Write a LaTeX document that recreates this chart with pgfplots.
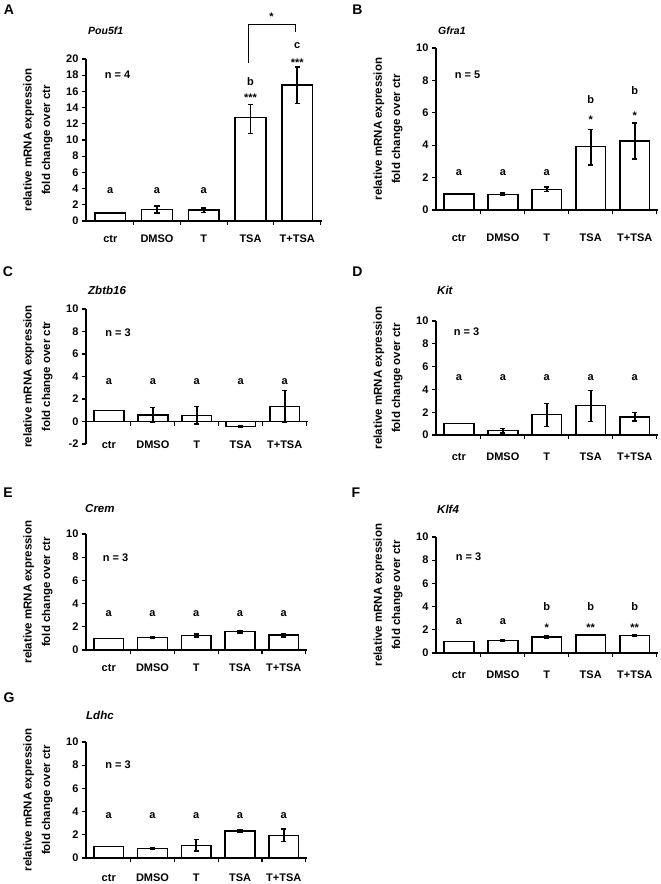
\documentclass[border=0pt]{standalone}
\usepackage{fontspec}
\setmainfont{Liberation Sans}
\usepackage{pgfplots}
\pgfplotsset{compat=1.18}
\usetikzlibrary{calc}
\newcommand{\fs}[1]{\fontsize{#1}{#1}\selectfont\bfseries}
\pgfplotsset{
 panel/.style={
  scale only axis, anchor=south west, clip=false,
  xmin=-0.52, xmax=4.53,
  axis x line*=bottom, axis y line*=left,
  axis line style={line width=1.2pt, -},
  tick align=outside,
  major tick length=4pt, minor tick length=4pt,
  xtick={0,1,2,3,4}, xticklabels={ctr,DMSO,T,TSA,T+TSA},
  major x tick style={draw=none},
  minor xtick={0.5,1.5,2.5,3.5,4.5},
  minor x tick style={line width=1.2pt, black},
  ytick style={line width=1.2pt, black},
  /pgf/number format/assume math mode=true,
  yticklabel style={font=\fs{11}},
  xticklabel style={font=\fs{11}, anchor=base},
  ylabel={relative mRNA expression\\fold change over ctr},
  ylabel style={align=center, font=\fontsize{11.5}{18.4}\selectfont\bfseries, at={($(axis description cs:0,0.5)+(-48pt,0)$)}, anchor=center},
 },
 bars/.style={ybar, bar width=0.68, fill=white, draw=black, line width=1.5pt,
   error bars/y dir=both, error bars/y explicit,
   error bars/error mark=-,
   error bars/error bar style={line width=1.6pt, black},
   error bars/error mark options={rotate=90, line width=1.6pt, mark size=2.6pt, black}},
}
\tikzset{
 lbl/.style={font=\fs{11}, anchor=center},
 star/.style={font=\fs{11}, anchor=base, yshift=-6.4pt},
 letter/.style={font=\fs{14}, inner sep=0pt},
 gtitle/.style={anchor=west, inner sep=0pt},
 nlab/.style={font=\fs{11}, inner sep=0pt},
}
\begin{document}
\bfseries
\begin{tikzpicture}
\path[use as bounding box] (0,0) rectangle (661pt,-884pt);
% panel letters
\node[letter] at (9pt,-10pt) {A};
\node[letter] at (357.5pt,-10pt) {B};
\node[letter] at (8pt,-272pt) {C};
\node[letter] at (357.5pt,-272pt) {D};
\node[letter] at (8pt,-493pt) {E};
\node[letter] at (356pt,-493pt) {F};
\node[letter] at (9pt,-698pt) {G};
% gene titles
\node[gtitle, font=\fs{10.5}\itshape] at (88pt,-31pt) {Pou5f1};
\node[gtitle, font=\fs{10.5}\itshape] at (438pt,-31pt) {Gfra1};
\node[gtitle, font=\fs{11.5}\itshape] at (88pt,-290.7pt) {Zbtb16};
\node[gtitle, font=\fs{11.5}\itshape] at (437pt,-290pt) {Kit};
\node[gtitle, font=\fs{11.5}\itshape] at (85pt,-509pt) {Crem};
\node[gtitle, font=\fs{11.5}\itshape] at (437pt,-509pt) {Klf4};
\node[gtitle, font=\fs{11.5}\itshape] at (86pt,-715pt) {Ldhc};
% n labels
\node[nlab] at (117.5pt,-75pt) {n = 4};
\node[nlab] at (467.5pt,-75pt) {n = 5};
\node[nlab] at (118pt,-332.7pt) {n = 3};
\node[nlab] at (466.5pt,-331.7pt) {n = 3};
\node[nlab] at (115.5pt,-558pt) {n = 3};
\node[nlab] at (468.5pt,-557pt) {n = 3};
\node[nlab] at (118pt,-765pt) {n = 3};

% ---------- A ----------
\begin{axis}[panel, at={(86pt,-221pt)}, width=236pt, height=162pt,
  ymin=0, ymax=20, ytick={0,2,...,20}, xticklabel style={yshift=-17pt}]
\addplot[bars, bar width=0.66] coordinates {(0,1) (1,1.4) +- (0,0.42) (2,1.33) +- (0,0.3) (3,12.75) += (0,1.65) -= (0,1.95) (4,16.8) += (0,2.2) -= (0,2.3)};
\addplot[black, line width=1.3pt, no marks] coordinates {(2.96,19.5) (2.96,24.3) (3.97,24.3) (3.97,23.3)};
\node[lbl] at (axis cs:0,3.7) {a};
\node[lbl] at (axis cs:1,3.7) {a};
\node[lbl] at (axis cs:2,3.7) {a};
\node[lbl] at (axis cs:3,17.2) {b};
\node[star] at (axis cs:3,15.6) {***};
\node[lbl] at (axis cs:4,21.7) {c};
\node[star] at (axis cs:4,19.9) {***};
\node[star] at (axis cs:3.45,25.5) {*};
\end{axis}

% ---------- B ----------
\begin{axis}[panel, at={(436pt,-210pt)}, width=222pt, height=162pt,
  ymin=0, ymax=10, ytick={0,2,...,10}, xticklabel style={yshift=-27pt}]
\addplot[bars] coordinates {(0,1) (1,0.97) +- (0,0.07) (2,1.28) +- (0,0.15) (3,3.93) += (0,1.05) -= (0,1.15) (4,4.25) += (0,1.12) -= (0,1.12)};
\node[lbl] at (axis cs:0,2.3) {a};
\node[lbl] at (axis cs:1,2.3) {a};
\node[lbl] at (axis cs:2,2.3) {a};
\node[lbl] at (axis cs:3,6.8) {b};
\node[star] at (axis cs:3,5.75) {*};
\node[lbl] at (axis cs:4,7.4) {b};
\node[star] at (axis cs:4,6.0) {*};
\end{axis}

% ---------- C ----------
\begin{axis}[panel, at={(86pt,-444pt)}, width=222pt, height=135pt,
  ymin=-2, ymax=10, ytick={-2,0,...,10}, xticklabel style={yshift=0pt},
  x axis line style={draw=none}, minor x tick style={draw=none}]
\addplot[bars] coordinates {(0,1) (1,0.6) += (0,0.65) -= (0,0.7) (2,0.55) += (0,0.8) -= (0,0.75) (3,-0.45) +- (0,0.08) (4,1.35) += (0,1.42) -= (0,1.44)};
\addplot[black, line width=1.2pt, no marks] coordinates {(-0.52,0) (4.53,0)};
\pgfplotsinvokeforeach{0.5,1.5,2.5,3.5,4.5}{\draw[line width=1.2pt] (axis cs:#1,0) -- ++(0pt,-4pt);}
\pgfplotsinvokeforeach{0,1,2,3,4}{\node[lbl] at (axis cs:#1,3.56) {a};}
\end{axis}

% ---------- D ----------
\begin{axis}[panel, at={(436pt,-435pt)}, width=222pt, height=114pt,
  ymin=0, ymax=10, ytick={0,2,...,10}, xticklabel style={yshift=-21pt}]
\addplot[bars] coordinates {(0,1) (1,0.38) +- (0,0.2) (2,1.8) += (0,0.97) -= (0,1.07) (3,2.6) += (0,1.3) -= (0,1.4) (4,1.6) +- (0,0.38)};
\pgfplotsinvokeforeach{0,1,2,3,4}{\node[lbl] at (axis cs:#1,5.0) {a};}
\end{axis}

% ---------- E ----------
\begin{axis}[panel, at={(86pt,-650pt)}, width=221pt, height=116pt,
  ymin=0, ymax=10, ytick={0,2,...,10}, xticklabel style={yshift=-17pt}]
\addplot[bars] coordinates {(0,1) (1,1.08) +- (0,0.1) (2,1.25) +- (0,0.15) (3,1.58) +- (0,0.1) (4,1.28) +- (0,0.15)};
\pgfplotsinvokeforeach{0,1,2,3,4}{\node[lbl] at (axis cs:#1,3.16) {a};}
\end{axis}

% ---------- F ----------
\begin{axis}[panel, at={(436pt,-653pt)}, width=222pt, height=116pt,
  ymin=0, ymax=10, ytick={0,2,...,10}, xticklabel style={yshift=-21pt}]
\addplot[bars] coordinates {(0,1) (1,1.08) +- (0,0.04) (2,1.4) +- (0,0.1) (3,1.55) +- (0,0.05) (4,1.5) +- (0,0.08)};
\node[lbl] at (axis cs:0,2.7) {a};
\node[lbl] at (axis cs:1,2.7) {a};
\node[lbl] at (axis cs:2,4.0) {b};
\node[lbl] at (axis cs:3,4.0) {b};
\node[lbl] at (axis cs:4,4.0) {b};
\node[star] at (axis cs:2,2.4) {*};
\node[star] at (axis cs:3,2.4) {**};
\node[star] at (axis cs:4,2.4) {**};
\end{axis}

% ---------- G ----------
\begin{axis}[panel, at={(86pt,-858pt)}, width=221pt, height=116pt,
  ymin=0, ymax=10, ytick={0,2,...,10}, xticklabel style={yshift=-19pt}]
\addplot[bars] coordinates {(0,1) (1,0.83) +- (0,0.05) (2,1.1) +- (0,0.5) (3,2.35) +- (0,0.1) (4,1.93) += (0,0.55) -= (0,0.52)};
\pgfplotsinvokeforeach{0,1,2,3,4}{\node[lbl] at (axis cs:#1,3.63) {a};}
\end{axis}
\end{tikzpicture}
\end{document}
